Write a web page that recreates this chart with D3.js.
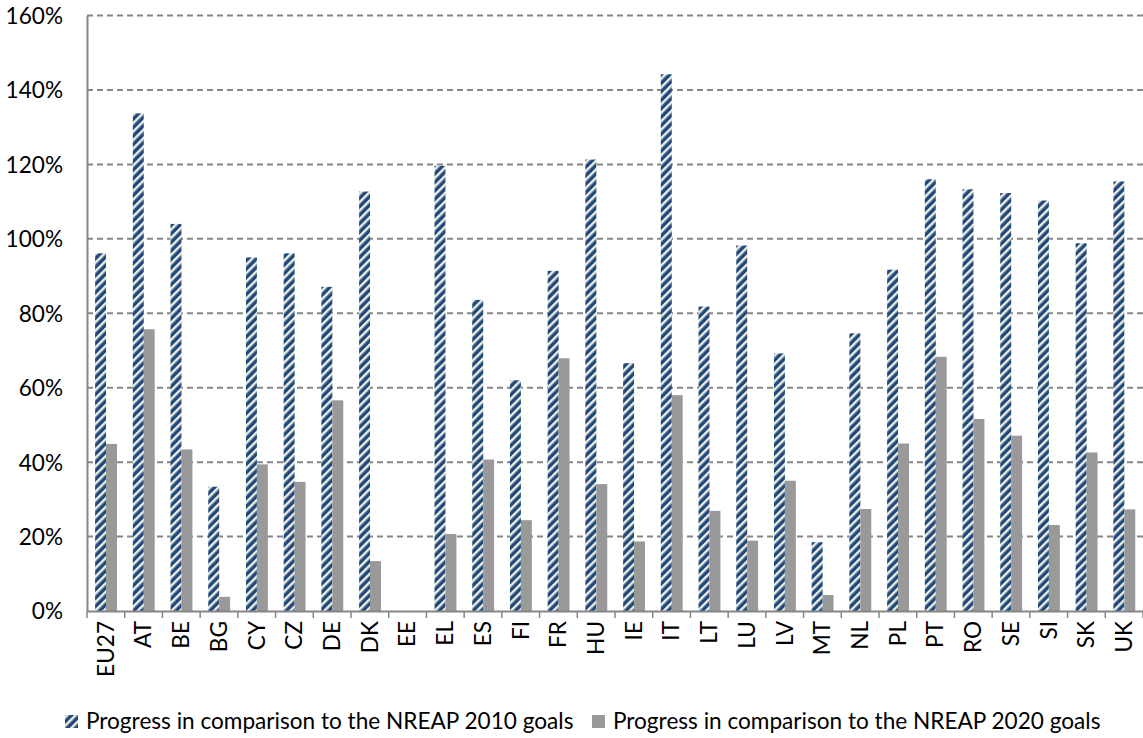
<!DOCTYPE html>
<html>
<head>
<meta charset="utf-8">
<script src="https://cdn.jsdelivr.net/npm/d3@7"></script>
<style>
  html, body { margin: 0; padding: 0; background: #fff; }
  svg { display: block; }
  text { font-family: Lato, "Open Sans", sans-serif; fill: #000; }
</style>
</head>
<body>
<svg id="chart" width="1143" height="738"></svg>
<script>
const categories = ["EU27","AT","BE","BG","CY","CZ","DE","DK","EE","EL","ES","FI","FR","HU","IE","IT","LT","LU","LV","MT","NL","PL","PT","RO","SE","SI","SK","UK"];
const progress2010 = [96.1,133.7,104.0,33.4,95.0,96.1,87.1,112.7,null,119.6,83.6,62.0,91.4,121.3,66.6,144.2,81.8,98.2,69.2,18.5,74.6,91.7,116.0,113.3,112.3,110.3,98.8,115.4];
const progress2020 = [44.9,75.7,43.4,3.8,39.4,34.7,56.6,13.4,null,20.7,40.7,24.4,67.9,34.1,18.7,58.0,26.9,18.9,35.0,4.3,27.4,45.0,68.3,51.6,47.1,23.1,42.6,27.3];
const seriesNames = ["Progress in comparison to the NREAP 2010 goals","Progress in comparison to the NREAP 2020 goals"];
const yTicks = [0,20,40,60,80,100,120,140,160];

const FS = 22.6;
const svg = d3.select("#chart");
const margin = {left: 87, right: 0, top: 15.5, bottom: 127};
const W = 1143, H = 738;

const defs = svg.append("defs");
const pat = defs.append("pattern")
  .attr("id","stripes").attr("patternUnits","userSpaceOnUse")
  .attr("width",6).attr("height",10)
  .attr("patternTransform","rotate(45)");
pat.append("rect").attr("width",6).attr("height",10).attr("fill","#1F497D");
pat.append("rect").attr("x",0).attr("width",2.5).attr("height",10).attr("fill","#EEECE1");

const x0 = d3.scaleBand().domain(categories).range([margin.left, W - margin.right]).padding(0);
const bw = x0.bandwidth();
const x1 = d3.scaleBand().domain([0,1]).range([bw*0.215, bw*0.795]).padding(0);
const y = d3.scaleLinear().domain([0,160]).range([H - margin.bottom, margin.top]);

// gridlines
svg.append("g").selectAll("line").data(yTicks.filter(d => d > 0)).join("line")
  .attr("x1", margin.left).attr("x2", W - margin.right)
  .attr("y1", d => y(d)).attr("y2", d => y(d))
  .attr("stroke","#868686").attr("stroke-width",2).attr("stroke-dasharray","6,4");

// bars
const data = categories.map((c,i) => ({c, v:[progress2010[i], progress2020[i]]}));
const g = svg.append("g");
data.forEach(d => {
  d.v.forEach((v,k) => {
    if (v == null) return;
    g.append("rect")
      .attr("x", x0(d.c) + x1(k))
      .attr("y", y(v))
      .attr("width", x1.bandwidth())
      .attr("height", y(0) - y(v))
      .attr("fill", k === 0 ? "url(#stripes)" : "#999999");
  });
});

// y axis
const yAxis = d3.axisLeft(y).tickValues(yTicks).tickFormat(d => d + "%").tickSize(0).tickPadding(24);
const ya = svg.append("g").attr("transform", `translate(${margin.left},0)`).call(yAxis);
ya.select(".domain").attr("stroke","#868686").attr("stroke-width",2);
ya.selectAll("text").attr("font-size",FS).attr("font-family","Lato, 'Open Sans', sans-serif").attr("dy","0.35em");

// x axis
const xAxis = d3.axisBottom(x0).tickSize(0).tickPadding(0);
const xa = svg.append("g").attr("transform", `translate(0,${y(0)})`).call(xAxis);
xa.select(".domain").attr("stroke","#868686").attr("stroke-width",2);
xa.selectAll(".tick text")
  .attr("transform","rotate(-90)")
  .attr("text-anchor","end")
  .attr("x",-10).attr("y",0).attr("dy","0.35em")
  .attr("font-size",FS).attr("font-family","Lato, 'Open Sans', sans-serif");
// boundary tick marks
svg.append("g").selectAll("line").data(d3.range(categories.length + 1)).join("line")
  .attr("x1", i => margin.left + i*bw).attr("x2", i => margin.left + i*bw)
  .attr("y1", y(0)).attr("y2", y(0) + 7)
  .attr("stroke","#868686").attr("stroke-width",1.5);

// legend
const leg = svg.append("g");
const legItems = [{x:65, name:seriesNames[0], fill:"url(#stripes)"},{x:592, name:seriesNames[1], fill:"#999999"}];
legItems.forEach(l => {
  leg.append("rect").attr("x", l.x).attr("y", 715).attr("width", 13).attr("height", 13).attr("fill", l.fill);
  leg.append("text").attr("x", l.x + 21).attr("y", 721.5).attr("dy","0.35em")
    .attr("font-size",FS).text(l.name);
});
</script>
</body>
</html>
